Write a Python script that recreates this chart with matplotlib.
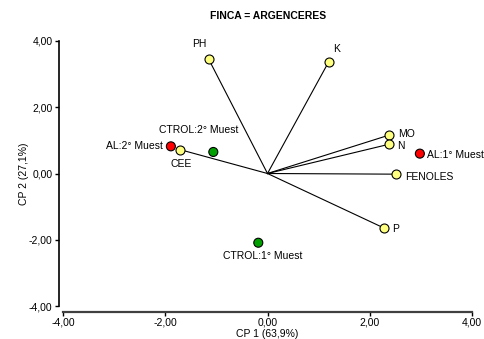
import matplotlib
matplotlib.use("Agg")
import matplotlib.pyplot as plt
from matplotlib.ticker import FuncFormatter

plt.rcParams['font.family'] = ['Liberation Sans', 'DejaVu Sans']

# variables (biplot vectors)
var_names = ["PH", "K", "MO", "N", "FENOLES", "P", "CEE"]
var_x = [-1.15, 1.20, 2.38, 2.37, 2.51, 2.27, -1.71]
var_y = [3.45, 3.38, 1.16, 0.88, -0.02, -1.64, 0.72]

# samples
obs_names = ["AL:1° Muest", "AL:2° Muest", "CTROL:1° Muest", "CTROL:2° Muest"]
obs_x = [2.98, -1.89, -0.18, -1.06]
obs_y = [0.60, 0.82, -2.09, 0.65]
obs_colors = ["#ff0000", "#ff0000", "#00a000", "#00a000"]

# label offsets in pixels (dx, dy, ha)
var_offsets = {
    "PH": (-9, 15, "center"), "K": (8, 13, "center"), "MO": (9, 1, "left"),
    "N": (8, -2, "left"), "FENOLES": (9, -3, "left"), "P": (9, -1, "left"),
    "CEE": (1, -14, "center"),
}
obs_offsets = {
    "AL:1° Muest": (7, -1, "left"), "AL:2° Muest": (-8, 0, "right"),
    "CTROL:1° Muest": (4, -13, "center"), "CTROL:2° Muest": (-15, 22, "center"),
}

fig = plt.figure(figsize=(4.85, 3.39), dpi=100)
ax = fig.add_axes([63 / 485, 33 / 339, 409 / 485, 265 / 339])

for x, y in zip(var_x, var_y):
    ax.plot([0, x], [0, y], color="black", lw=0.8, zorder=1)
ax.scatter(var_x, var_y, s=42, c="#ffff80", edgecolors="black", linewidths=0.8, zorder=3)
ax.scatter(obs_x, obs_y, s=42, c=obs_colors, edgecolors="black", linewidths=0.8, zorder=3)

for name, x, y in zip(var_names, var_x, var_y):
    dx, dy, ha = var_offsets[name]
    ax.annotate(name, (x, y), xytext=(dx, dy), textcoords="offset pixels",
                ha=ha, va="center", fontsize=7.5, annotation_clip=False)
for name, x, y in zip(obs_names, obs_x, obs_y):
    dx, dy, ha = obs_offsets[name]
    ax.annotate(name, (x, y), xytext=(dx, dy), textcoords="offset pixels",
                ha=ha, va="center", fontsize=7.5, annotation_clip=False)

ax.set_xlim(-4, 4)
ax.set_ylim(-4, 4)
ax.set_xticks([-4, -2, 0, 2, 4])
ax.set_yticks([-4, -2, 0, 2, 4])
fmt = FuncFormatter(lambda v, p: f"{v:.2f}".replace(".", ","))
ax.xaxis.set_major_formatter(fmt)
ax.yaxis.set_major_formatter(fmt)
ax.tick_params(labelsize=7.5, length=3, width=1, pad=1.5)

for s in ["top", "right"]:
    ax.spines[s].set_visible(False)
ax.spines["left"].set_position(("outward", 3))
ax.spines["bottom"].set_position(("outward", 4))
ax.spines["left"].set_linewidth(1.2)
ax.spines["bottom"].set_linewidth(1.6)
ax.spines["bottom"].set_color("#404040")

ax.set_xlabel("CP 1 (63,9%)", fontsize=7.5, labelpad=1)
ax.set_ylabel("CP 2 (27,1%)", fontsize=7.5, labelpad=0)
fig.text(0.552, 1 - 16 / 339, "FINCA = ARGENCERES", ha="center", va="center",
         fontsize=7.5, fontweight="bold")

fig.savefig("out.png", dpi=100)
